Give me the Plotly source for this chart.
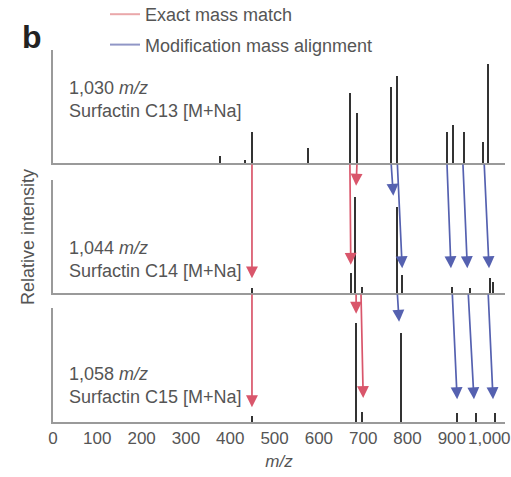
import plotly.graph_objects as go
from plotly.subplots import make_subplots

# ---- data ----
mz_c13 = [377, 433, 449, 576, 670, 686, 763, 777, 889, 903, 928, 971, 982]
int_c13 = [0.06, 0.03, 0.27, 0.13, 0.62, 0.44, 0.67, 0.77, 0.27, 0.34, 0.27, 0.19, 0.88]

mz_c14 = [449, 673, 682, 698, 777, 788, 901, 941, 986, 993]
int_c14 = [0.04, 0.18, 0.85, 0.05, 0.76, 0.16, 0.05, 0.04, 0.13, 0.10]

mz_c15 = [449, 684, 698, 786, 912, 955, 998]
int_c15 = [0.05, 0.87, 0.09, 0.78, 0.08, 0.08, 0.08]

panel_labels = ["1,030 <i>m/z</i><br>Surfactin C13 [M+Na]",
                "1,044 <i>m/z</i><br>Surfactin C14 [M+Na]",
                "1,058 <i>m/z</i><br>Surfactin C15 [M+Na]"]

# arrows: (from panel, from m/z, to panel, to m/z, to intensity)
exact_arrows = [(1, 449, 2, 449, 0.13), (1, 670, 2, 672, 0.25), (1, 686, 2, 684, 0.95),
                (2, 449, 3, 449, 0.13), (2, 684, 3, 684, 0.95), (2, 695, 3, 700, 0.21)]
mod_arrows = [(1, 763, 2, 768, 0.86), (1, 777, 2, 788, 0.22), (1, 889, 2, 898, 0.22),
              (1, 925, 2, 935, 0.22), (1, 973, 2, 984, 0.22),
              (2, 777, 3, 781, 0.88), (2, 901, 3, 912, 0.20), (2, 937, 3, 950, 0.20),
              (2, 982, 3, 993, 0.20)]

tick_vals = [0, 100, 200, 300, 400, 500, 600, 700, 800, 900, 1000]
tick_text = ["0", "100", "200", "300", "400", "500", "600", "700", "800", "900", "1,000"]

# ---- layout geometry ----
W, H = 511, 477
L, R, T, B = 53, 505, 50, 422


def py(p):
    return (B - p) / (B - T)


domains = [[py(163), 1.0], [py(293), py(180)], [0.0, py(308)]]

FONT = "Liberation Sans, Arial, sans-serif"
TXT = "#555555"
AX = "#9a9a9a"
PEAK = "#333333"
RED = "#d9566b"
BLUE = "#5561b0"

fig = make_subplots(rows=3, cols=1, shared_xaxes=True, vertical_spacing=0.02)

for i, (mz, iv) in enumerate([(mz_c13, int_c13), (mz_c14, int_c14), (mz_c15, int_c15)], start=1):
    fig.add_trace(go.Bar(x=mz, y=iv, width=5, marker=dict(color=PEAK, line=dict(width=0)),
                         showlegend=False, hoverinfo="x+y"), row=i, col=1)

# legend entries
fig.add_trace(go.Scatter(x=[None], y=[None], mode="lines", name="Exact mass match",
                         line=dict(color="#eaa8aa", width=2), legendgroup="a"), row=1, col=1)
fig.add_trace(go.Scatter(x=[None], y=[None], mode="lines", name="Modification mass alignment",
                         line=dict(color="#9096c6", width=2), legendgroup="b"), row=1, col=1)

# the last tick label sits at the right edge: draw it as an annotation nudged inward
shown_text = tick_text[:-1] + [""]

for i in range(1, 4):
    sx = "" if i == 1 else str(i)
    fig.layout["yaxis" + sx].update(domain=domains[i - 1], range=[0, 1], showline=True,
                                     linecolor=AX, linewidth=2, showticklabels=False,
                                     ticks="", showgrid=False, zeroline=False, automargin=False)
    fig.layout["xaxis" + sx].update(domain=[0, 1], range=[0, 1020], showline=True, linecolor=AX,
                                     linewidth=2, showgrid=False, zeroline=False, ticks="",
                                     tickvals=tick_vals, ticktext=shown_text,
                                     showticklabels=(i == 3), automargin=False,
                                     tickfont=dict(size=17, color=TXT, family=FONT))

fig.layout.xaxis3.title = dict(text="<i>m/z</i>", font=dict(size=17, color=TXT, family=FONT), standoff=8)

annotations = []


def add_arrows(arrows, color):
    for (pf, mf, pt, mt, yt) in arrows:
        d_to = domains[pt - 1]
        d_from = domains[pf - 1]
        tail_y = (d_from[0] - d_to[0]) / (d_to[1] - d_to[0])
        s = "" if pt == 1 else str(pt)
        annotations.append(dict(x=mt, y=yt, xref="x" + s, yref="y" + s,
                                ax=mf, ay=tail_y, axref="x" + s, ayref="y" + s,
                                text="", showarrow=True, arrowhead=2, arrowsize=1.4,
                                arrowwidth=1.7, arrowcolor=color, standoff=0, startstandoff=0))


add_arrows(exact_arrows, RED)
add_arrows(mod_arrows, BLUE)

annotations.append(dict(text=tick_text[-1], x=tick_vals[-1], xref="x3", y=py(438), yref="paper",
                        xanchor="center", yanchor="middle", xshift=-7, showarrow=False,
                        font=dict(size=17, color=TXT, family=FONT)))

label_y = [py(99), py(259), py(385)]
for i, txt in enumerate(panel_labels):
    annotations.append(dict(text=txt, x=(67 - L) / (R - L), y=label_y[i], xref="paper", yref="paper",
                            xanchor="left", yanchor="middle", align="left", showarrow=False,
                            font=dict(size=18, color=TXT, family=FONT)))

annotations.append(dict(text="Relative intensity", textangle=-90, x=(28 - L) / (R - L), y=py(237),
                        xref="paper", yref="paper", showarrow=False, xanchor="center", yanchor="middle",
                        font=dict(size=18, color=TXT, family=FONT)))
annotations.append(dict(text="<b>b</b>", x=(32 - L) / (R - L), y=py(37), xref="paper", yref="paper",
                        showarrow=False, xanchor="center", yanchor="middle",
                        font=dict(size=32, color="#222222", family=FONT)))

fig.update_layout(
    width=W, height=H,
    margin=dict(l=L, r=W - R, t=T, b=H - B, pad=0, autoexpand=False),
    paper_bgcolor="white", plot_bgcolor="white",
    bargap=0,
    annotations=annotations,
    showlegend=True,
    legend=dict(x=(105 - L) / (R - L), y=py(-4), xanchor="left", yanchor="top",
                bgcolor="rgba(0,0,0,0)", font=dict(size=18, color=TXT, family=FONT),
                tracegroupgap=4, itemwidth=30),
    font=dict(family=FONT, color=TXT),
)

fig.write_html("out.html", config={"displayModeBar": False},
               post_script="document.body.style.margin='0';document.body.style.overflow='hidden';")
